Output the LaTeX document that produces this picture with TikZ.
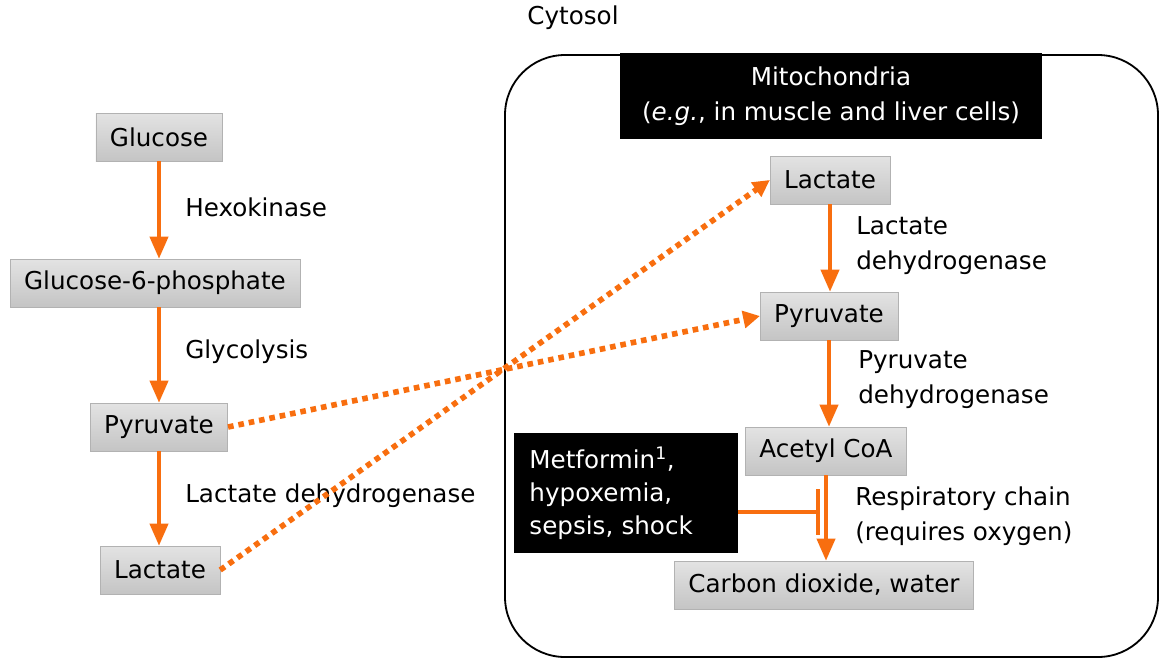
\documentclass[tikz,border=0pt]{standalone}
\usepackage{fontspec}
\setmainfont{DejaVu Sans}
\usetikzlibrary{arrows.meta,positioning}
\definecolor{flow}{RGB}{248,110,15}

\begin{document}
\begin{tikzpicture}[x=0.025cm, y=-0.025cm,
	every node/.style={font=\fontsize{17.5}{25}\selectfont},
	box/.style={draw=black!30, top color=black!11, bottom color=black!23, inner xsep=0.35cm, minimum height=1.2cm},
	lbl/.style={anchor=west, inner sep=0pt, align=left},
	blackbox/.style={fill=black, text=white},
	reaction/.style={draw=flow, line width=2.8pt, -{Triangle[width=0.45cm, length=0.55cm]}},
	shuttle/.style={draw=flow, line width=4pt, dash pattern=on 4pt off 3.5pt, -{Triangle[width=0.42cm, length=0.42cm]}},
	inhibit/.style={draw=flow, line width=2.8pt, -{Bar[width=1.15cm]}}]
	\useasboundingbox (0,0) rectangle (1166,667);

	\node (cyto) at (573,18) {Cytosol};
	\draw [line width=1.3pt, rounded corners=1.5cm] (505,55) rectangle (1158,657);
	\node [blackbox, minimum width=10.55cm, minimum height=2.125cm, align=center] (mito) at (831,96) {Mitochondria\\(\emph{e.g.}, in muscle and liver cells)};

	\node [box] (glc) at (159,137) {Glucose};
	\node [box] (g6p) at (155,283) {Glucose-6-phosphate};
	\node [box] (pyrL) at (159,427) {Pyruvate};
	\node [box] (lacL) at (160,570) {Lactate};
	\node [lbl] (hk) at (185,207) {Hexokinase};
	\node [lbl] (gly) at (185,352) {Glycolysis};
	\node [lbl] (ldhL) at (185,496) {Lactate dehydrogenase};

	\node [box] (lacR) at (830,180) {Lactate};
	\node [box] (pyrR) at (829,316) {Pyruvate};
	\node [box] (acoa) at (826,451) {Acetyl CoA};
	\node [box] (co2) at (824,585) {Carbon dioxide, water};
	\node [lbl] (ldhR) at (856,246) {Lactate\\dehydrogenase};
	\node [lbl] (pdh) at (858,380) {Pyruvate\\dehydrogenase};
	\node [lbl] (resp) at (855,516) {Respiratory chain\\(requires oxygen)};
	\node [blackbox, text width=4.825cm, inner xsep=0.375cm, minimum height=3cm, align=left, font=\fontsize{17.5}{23.5}\selectfont] (met) at (626,493) {Metformin\textsuperscript{1},\\hypoxemia,\\sepsis, shock};

	\draw [reaction] (glc.south) -- (glc.south |- g6p.north);
	\draw [reaction] (g6p.south -| glc.south) -- (glc.south |- pyrL.north);
	\draw [reaction] (pyrL.south) -- (pyrL.south |- lacL.north);
	\draw [reaction] (lacR.south) -- (lacR.south |- pyrR.north);
	\draw [reaction] (pyrR.south) -- (pyrR.south |- acoa.north);
	\draw [reaction] (acoa.south) -- (acoa.south |- co2.north);

	\draw [shuttle] (pyrL.east) -- (pyrR.west);
	\draw [shuttle] (lacL.east) -- (lacR.west);

	\coordinate (block) at (820,512);
	\draw [inhibit] (met.east |- block) -- (block);

\end{tikzpicture}
\end{document}
